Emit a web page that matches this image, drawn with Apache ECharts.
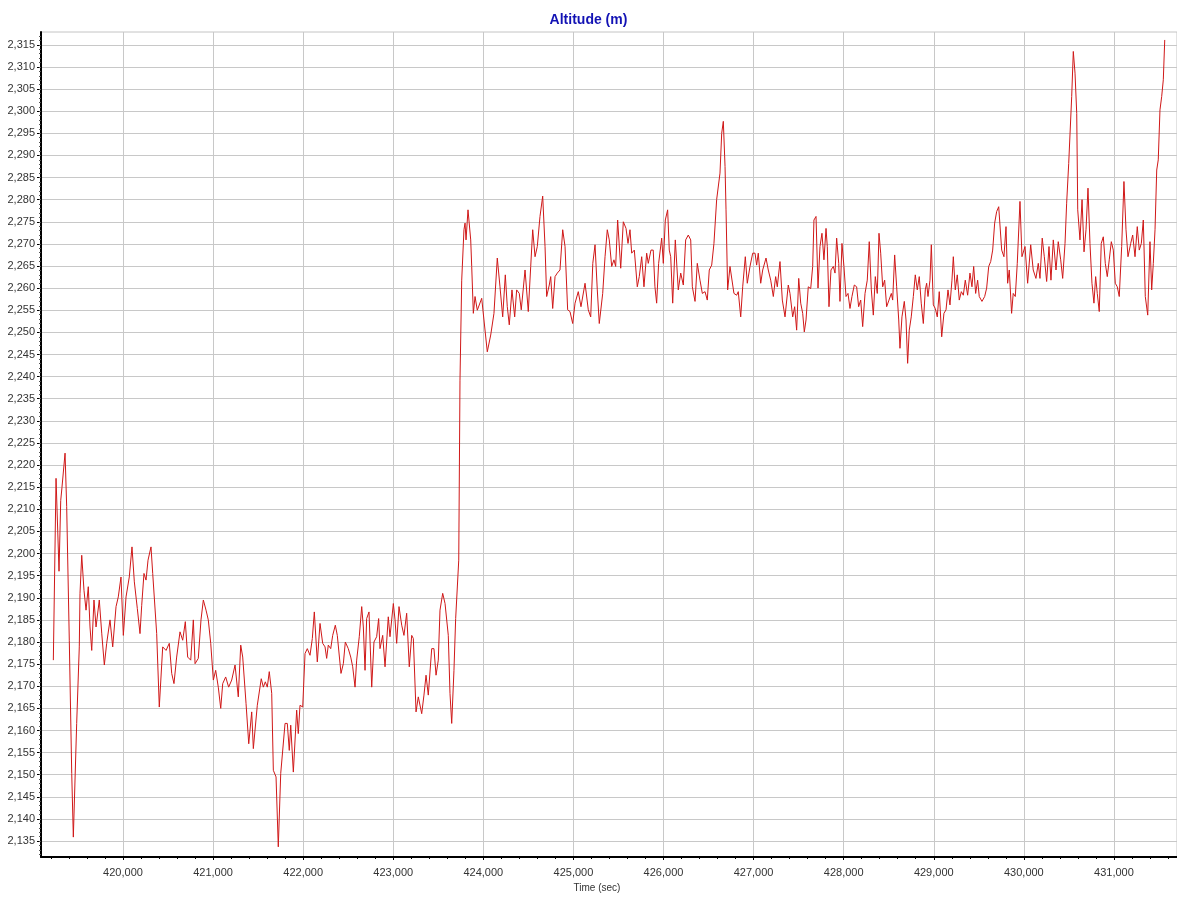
<!DOCTYPE html>
<html>
<head>
<meta charset="utf-8">
<script src="https://cdn.jsdelivr.net/npm/echarts@6/dist/echarts.min.js"></script>
<style>
  html, body { margin: 0; padding: 0; background: #fff; }
  #chart { width: 1177px; height: 899px; }
</style>
</head>
<body>
<div id="chart"></div>
<script>
// time in seconds, altitude in metres
var times1 = [
  419227,419257,419290,419309,419323,419357,419375,419404,419431,419449,
  419486,419515,419523,419542,419567,419590,419615,419634,419653,419678,
  419701,419737,419764,419793,419819,419856,419886,419923,419948,419978,
  420004,420034,420070,420100,420126,420159,420189,420208,420233,420256,
  420278,420311,420330,420374,420403,420441,420478,420514,420541,420566,
  420596,420633,420663,420692,420718,420752,420781,420800,420836,420866,
  420892,420922,420947,420974,421003,421029,421058,421085,421107,421140,
  421173
];
var alt1 = [
  2175.9,2217,2196,2212,2215,2222.7,2210.6,2180.4,2150.3,2135.9,
  2161.6,2178.9,2191,2199.6,2191.7,2187.2,2192.5,2183.4,2178.1,2189.5,
  2183.4,2189.5,2182,2174.8,2179.7,2185,2178.9,2188,2190.2,2194.7,
  2181.5,2190.2,2194.7,2201.5,2193.6,2187.6,2181.9,2188.3,2195.5,2194,
  2198.5,2201.5,2195.5,2181.9,2165.3,2178.9,2178.1,2179.7,2172.9,2170.6,
  2176.6,2182.3,2180.4,2184.6,2176.6,2175.9,2185,2175.1,2176.3,2185,
  2189.5,2187.2,2185,2179.7,2171.4,2173.6,2169.8,2165,2170.6,2172.1,
  2169.8
];
var times2 = [
  421188,421207,421244,421280,421307,421329,421366,421396,421429,421447,
  421491,421535,421558,421580,421602,421624,421651,421669,421699,421724,
  421751,421799,421824,421846,421862,421891,421928,421946,421965,421995,
  422021,422046,422076,422102,422124,422157,422187,422217,422243,422261,
  422279,422306,422328,422357,422379,422420,422446,422468,422501,422528,
  422550,422576,422594,422623,422650,422668,422687,422705,422731,422761,
  422786,422816,422838,422853,422883,422909,422945,422964,423001,423020,
  423038,423064,423094,423119,423149,423178,423205,423223,423253,423278,
  423316,423341,423364,423389,423427,423452,423475,423500,423519,423549,
  423575,423611,423630,423649,423674,423693,423711,423727,423741,423760,
  423785,423797,423808,423830,423860,423871,423889,423908,423933
];
var alt2 = [
  2169.5,2171.4,2174.8,2167.6,2179.3,2176.6,2166.1,2157,2164.2,2155.9,
  2165.7,2171.7,2169.8,2171,2169.8,2173.3,2168.4,2151,2149.5,2133.7,
  2150.3,2161.6,2161.6,2155.5,2161.2,2150.6,2164.6,2159.3,2165.7,2165.3,
  2177.4,2178.5,2177,2180.8,2186.8,2175.5,2184.2,2179.7,2178.9,2176.3,
  2179.3,2178.5,2181.5,2183.8,2181.5,2172.9,2175.1,2180,2178.5,2176.6,
  2174.4,2169.8,2175.9,2181.2,2188,2183.4,2173.6,2185.3,2186.8,2169.8,
  2180,2181.2,2185.3,2178.5,2181.5,2174.4,2185.7,2181.2,2188.7,2185,
  2179.7,2188,2183.8,2181.5,2186.5,2174.4,2181.5,2180.8,2164.2,2167.6,
  2163.8,2168,2172.5,2168,2178.5,2178.5,2172.5,2175.9,2187.2,2191,
  2188.7,2181.5,2168.4,2161.6,2173.6,2185.3,2185,2198.5,2239.2,2261.8,
  2273.2,2274.7,2270.9,2277.7,2270.9,2264.9,2254.3,2258.1,2255
];
var times3 = [
  423982,424007,424044,424082,424118,424155,424185,424215,424244,424266,
  424288,424318,424348,424370,424399,424421,424463,424499,424526,424548,
  424574,424599,424629,424659,424685,424703,424732,424748,424770,424796,
  424821,424851,424881,424907,424936,424962,424992,425018,425054,425084,
  425129,425165,425192,425215,425240,425265,425287
];
var alt3 = [
  2257.7,2252.8,2245.6,2249.4,2254.3,2266.8,2260.3,2253.5,2263,2255.8,
  2251.7,2259.6,2253.5,2259.6,2258.8,2255.1,2264.1,2254.7,2264.9,2273.2,
  2267.1,2269.4,2276.2,2280.8,2269.4,2258.1,2260.7,2262.6,2255.4,2262.6,
  2263.4,2264.1,2273.2,2269.4,2255.1,2254.7,2252,2256.6,2259.2,2255.8,
  2261.1,2255.1,2253.5,2265.6,2269.8,2259.6,2252
];
var times4 = [
  425325,425351,425376,425398,425425,425450,425469,425491,425525,425554,
  425584,425606,425628,425647,425676,425709,425731,425758,425783,425813,
  425831,425861,425886,425905,425924,425946,425980,425998,426020,426046,
  426064,426080,426102,426131,426164,426191,426220,426246,426275,426302,
  426320,426350,426375,426405,426431,426461,426486,426508,426535,426560,
  426590,426608,426627,426646,426664,426683,426694,426712,426738,426760,
  426782,426812,426830,426857,426879,426908,426930,426960,426990,427016,
  427034,427052,427079,427101,427138,427163,427190,427219,427245,427263,
  427293,427319,427349,427385
];
var alt4 = [
  2258.8,2267.1,2273.2,2270.9,2264.9,2266.4,2264.9,2275.4,2264.5,2275,
  2273.5,2270.1,2273.2,2267.9,2268.6,2260.3,2262.6,2267.1,2260.3,2267.9,
  2265.6,2268.6,2268.6,2260.3,2256.6,2265.6,2271.3,2265.6,2275.4,2277.7,
  2268.6,2267.1,2256.6,2270.9,2259.6,2263.4,2260.7,2270.9,2272,2270.9,
  2260.3,2257,2265.6,2261.8,2258.8,2259.2,2257.3,2264.1,2265.2,2270.1,
  2280,2280.3,2286,2295,2297.7,2287.5,2277.7,2259.6,2264.9,2264.5,
  2258.8,2258.4,2259.2,2253.5,2260.3,2267.1,2261.1,2264.9,2267.9,2267.9,
  2265.2,2267.9,2261.1,2264.1,2266.8,2264.1,2261.8,2258.1,2262.6,2260.3,
  2266,2257.3,2253.5,2260.7
];
var times5 = [
  427404,427434,427456,427478,427501,427523,427545,427563,427582,427607,
  427634,427656,427670,427693,427715,427737,427759,427781,427804,427818,
  427837,427859,427885,427904,427922,427945,427959,427981,428003,428026,
  428048,428070,428092,428118,428144,428166,428189,428211,428237,428262,
  428284,428307,428329,428351,428373,428392,428411,428433,428455,428477,
  428503,428529,428544,428566,428588,428611,428625,428647,428673,428692,
  428710,428728,428750,428773,428795,428817,428839,428861,428884,428906,
  428921,428936,428958,428973,428995,429017,429039,429061,429088,429113,
  429136,429158,429180,429202,429217,429239,429261,429283,429306,429328,
  429350,429376,429402,429424,429443,429465,429487,429505,429535,429565,
  429587,429610,429632,429654,429676,429698,429721
];
var alt5 = [
  2258.8,2253.5,2255.8,2250.5,2262.2,2256.6,2254.3,2250.1,2252.8,2260.3,
  2259.9,2264.9,2275.4,2276.2,2260,2269.4,2272.4,2266.4,2273.5,2269.4,
  2255.8,2264.1,2264.9,2263.4,2271.3,2265.6,2257,2270.1,2264.9,2258.1,
  2258.8,2255.4,2258.1,2260.7,2260.3,2255.8,2257.3,2251.3,2258.8,2261.8,
  2270.5,2259.6,2253.9,2262.6,2258.8,2272.4,2267.9,2260.3,2261.8,2255.8,
  2257.3,2258.8,2257.3,2267.5,2260.3,2252.8,2246.4,2253.5,2257,2252.8,
  2243,2250.5,2253.5,2258.1,2263,2259.6,2262.6,2256.6,2252,2259.6,
  2261.1,2258.1,2261.8,2269.8,2256.2,2255.4,2253.5,2259.2,2249,2254.3,
  2255.1,2259.6,2256.2,2261.8,2267.1,2259.6,2263,2257.3,2259.2,2258.4,
  2261.8,2258.4,2263.4,2260.3,2264.9,2258.8,2261.8,2258.1,2257,2258.1,
  2260,2264.9,2266,2268.6,2274.7,2277.3,2278.4
];
var times6 = [
  429754,429779,429802,429820,429838,429864,429882,429905,429927,429957,
  429979,430013,430042,430076,430104,430134,430160,430179,430204,430227,
  430253,430279,430301,430327,430357,430382,430409,430431,430457,430475,
  430498,430520,430531,430549,430568,430587,430598,430623,430646,430668,
  430690,430712,430734,430756,430778,430797,430815,430837,430859,430882,
  430904,430926,430948,430971,430993,431015,431037,431059,431086,431111,
  431134,431156,431186,431208,431234,431259,431281,431304,431326,431348,
  431375,431400,431419,431437,431456,431475,431492,431511,431530,431548,
  431564
];
var alt6 = [
  2268.6,2267.1,2273.9,2261.1,2264.1,2254.3,2258.8,2258.1,2265.6,2279.6,
  2267.1,2269.4,2261.1,2269.8,2264.1,2262.2,2265.6,2262.2,2271.3,2267.1,
  2261.5,2269.4,2261.8,2270.9,2264.1,2270.5,2266.4,2262.2,2270.1,2279.2,
  2288.2,2288.6,2303.3,2313.5,2308.6,2299.5,2277.7,2270.9,2280,2268.2,
  2273.2,2282.6,2270.1,2261.1,2256.6,2262.6,2258.8,2254.7,2270.1,2271.6,
  2265.6,2262.6,2266.4,2270.5,2268.6,2261.1,2260.3,2258.1,2269.4,2284.1,
  2273.2,2267.1,2270.1,2272,2267.1,2273.9,2268.6,2270.1,2275.4,2258.1,
  2253.9,2270.5,2259.6,2265.6,2273.2,2286.7,2289,2300.3,2303.3,2307.1,
  2316.1
];

var xTicks = [420000,421000,422000,423000,424000,425000,426000,427000,428000,429000,430000,431000];
var yTicks = [
  2135,2140,2145,2150,2155,2160,2165,2170,2175,2180,2185,2190,2195,2200,
  2205,2210,2215,2220,2225,2230,2235,2240,2245,2250,2255,2260,2265,2270,
  2275,2280,2285,2290,2295,2300,2305,2310,2315
];

var xMin = 419090, xMax = 431700;
var yMin = 2131.4, yMax = 2317.9;

// small ticks between the labelled ones
var xMinor = [];
for (var t = 419200; t <= 431600; t += 200) xMinor.push(t);
var yMinor = [];
for (var a = 2132; a <= 2317; a++) yMinor.push(a);

var allTimes = times1.concat(times2, times3, times4, times5, times6);
var allAlt = alt1.concat(alt2, alt3, alt4, alt5, alt6);
var lineData = allTimes.map(function (t, i) { return [t, allAlt[i]]; });

function commas(v) {
  return String(v).replace(/\B(?=(\d{3})+(?!\d))/g, ',');
}

var myChart = echarts.init(document.getElementById('chart'));
var option = {
  animation: false,
  backgroundColor: '#ffffff',
  title: {
    text: 'Altitude (m)',
    left: 'center',
    top: 8,
    textStyle: { fontFamily: 'Liberation Sans', fontSize: 14, fontWeight: 'bold', color: '#1212b4' }
  },
  grid: {
    left: 41, right: 0, top: 32, bottom: 42,
    show: true, borderColor: '#c4c4c4', borderWidth: 1,
    outerBoundsMode: 'none'
  },
  xAxis: [{
    type: 'value',
    min: xMin, max: xMax,
    name: 'Time (sec)',
    nameLocation: 'middle',
    nameGap: 23,
    nameTextStyle: { fontFamily: 'Liberation Sans', fontSize: 10, color: '#333', padding: [0, 24, 0, 0] },
    axisLine: { show: true, onZero: false, lineStyle: { color: '#000', width: 2 } },
    axisTick: { show: true, length: 3, customValues: xTicks, lineStyle: { color: '#000' } },
    axisLabel: { customValues: xTicks, margin: 10, fontFamily: 'Liberation Sans', fontSize: 11, color: '#333', formatter: commas },
    splitLine: { show: true, lineStyle: { color: '#c8c8c8', width: 1 } }
  }, {
    type: 'value',
    position: 'bottom',
    min: xMin, max: xMax,
    axisLine: { show: false },
    axisTick: { show: true, length: 2, customValues: xMinor, lineStyle: { color: '#000' } },
    axisLabel: { show: false },
    splitLine: { show: false }
  }],
  yAxis: [{
    type: 'value',
    min: yMin, max: yMax,
    axisLine: { show: true, onZero: false, lineStyle: { color: '#000', width: 2 } },
    axisTick: { show: true, length: 4, customValues: yTicks, lineStyle: { color: '#000' } },
    axisLabel: { customValues: yTicks, margin: 6, fontFamily: 'Liberation Sans', fontSize: 11, color: '#333', formatter: commas },
    splitLine: { show: true, lineStyle: { color: '#c8c8c8', width: 1 } }
  }, {
    type: 'value',
    position: 'left',
    min: yMin, max: yMax,
    axisLine: { show: false },
    axisTick: { show: true, length: 2, customValues: yMinor, lineStyle: { color: '#555' } },
    axisLabel: { show: false },
    splitLine: { show: false }
  }],
  series: [{
    name: 'Altitude',
    type: 'line',
    xAxisIndex: 0,
    yAxisIndex: 0,
    data: lineData,
    showSymbol: false,
    symbol: 'none',
    lineStyle: { color: '#d01818', width: 1 }
  }]
};
option && myChart.setOption(option);
</script>
</body>
</html>
